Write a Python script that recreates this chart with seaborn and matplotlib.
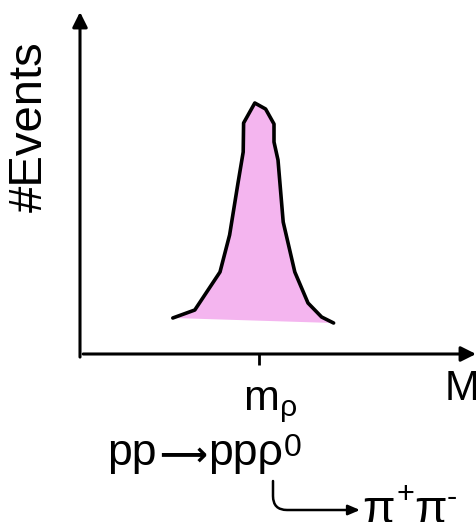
import numpy as np
import pandas as pd
import matplotlib.pyplot as plt
import matplotlib.transforms as mtrans
import seaborn as sb

# invariant mass (MeV) and event counts
mass = [560, 615, 678, 702, 723, 736, 737, 765, 792, 813, 813, 823, 836, 865, 898, 932, 962]
events = [36, 44, 82, 119, 171, 202, 231, 251, 245, 230, 212, 194, 132, 82, 51, 37, 31]
m_rho = 775
mass_range = [328, 1318]
event_range = [0, 342]

sb.set_style("white")
plt.rcParams['font.family'] = ['Liberation Sans', 'DejaVu Sans']
plt.rcParams['mathtext.fontset'] = 'custom'
plt.rcParams['mathtext.rm'] = 'Liberation Sans'
plt.rcParams['mathtext.it'] = 'Liberation Sans'
plt.rcParams['mathtext.bf'] = 'Liberation Sans:bold'
for key in ['text.color', 'axes.labelcolor', 'xtick.color', 'xtick.labelcolor']:
    plt.rcParams[key] = 'black'

df = pd.DataFrame({'mass': mass, 'events': events})

fig = plt.figure(figsize=(4.76, 5.22), dpi=100)
ax = fig.add_axes([80 / 476, (522 - 354) / 522, 396 / 476, 342 / 522])

ax.fill(df['mass'], df['events'], color='#f4b5ef', zorder=1, linewidth=0)
sb.lineplot(data=df, x='mass', y='events', sort=False, estimator=None,
            color='black', linewidth=2.6, ax=ax, zorder=2)

ax.set_xlim(mass_range)
ax.set_ylim(event_range)
for s in ax.spines.values():
    s.set_visible(False)

# axis arrows
arrow = dict(arrowstyle='-|>,head_length=0.9,head_width=0.45', color='black',
             linewidth=2.2, shrinkA=0, shrinkB=0)
ax.annotate('', xy=(1, 0), xytext=(0.008, 0), xycoords='axes fraction',
            textcoords='axes fraction', arrowprops=arrow, annotation_clip=False)
ax.annotate('', xy=(0, 1), xytext=(0, -0.009), xycoords='axes fraction',
            textcoords='axes fraction', arrowprops=arrow, annotation_clip=False)

ax.set_xticks([m_rho], labels=['m$_\\rho$'])
ax.set_yticks([])
ax.tick_params(axis='x', bottom=True, length=8, width=2, color='black',
               labelsize=31, pad=14)
shift = mtrans.ScaledTranslation(11 / 100, 0, fig.dpi_scale_trans)
for lbl in ax.get_xticklabels():
    lbl.set_transform(lbl.get_transform() + shift)
ax.set_xlabel('')
ax.set_ylabel('#Events', fontsize=34, va='center')
ax.yaxis.set_label_coords((30 - 80) / 396, (354 - 127) / 342)

ax.text(445, 522 - 400, 'M', transform=None, fontsize=30, ha='left', va='baseline')

# reaction text
ax.text(107, 522 - 465, 'pp', transform=None, fontsize=32, ha='left', va='baseline')
ax.text(183, 522 - 465, '\u27f6', transform=None, fontsize=24, ha='center',
        va='baseline', family=['DejaVu Sans'], fontweight='bold')
ax.text(208, 522 - 465, 'pp\u03c1', transform=None, fontsize=32, ha='left', va='baseline')
ax.text(284, 522 - 456, '0', transform=None, fontsize=23, ha='left', va='baseline')
ax.text(362, 522 - 523, '\u03c0', transform=None, fontsize=34, ha='left', va='baseline')
ax.text(396, 522 - 503, '+', transform=None, fontsize=22, ha='left', va='baseline')
ax.text(414, 522 - 523, '\u03c0', transform=None, fontsize=34, ha='left', va='baseline')
ax.text(447, 522 - 506, '-', transform=None, fontsize=22, ha='left', va='baseline')

ax.annotate('', xy=(360, 522 - 510), xytext=(273, 522 - 481),
            xycoords='figure pixels', textcoords='figure pixels',
            arrowprops=dict(arrowstyle='-|>,head_length=0.7,head_width=0.3',
                            color='black', linewidth=1.8, shrinkA=0, shrinkB=0,
                            connectionstyle='angle,angleA=90,angleB=0,rad=14'))

fig.savefig('out.png', dpi=100)
